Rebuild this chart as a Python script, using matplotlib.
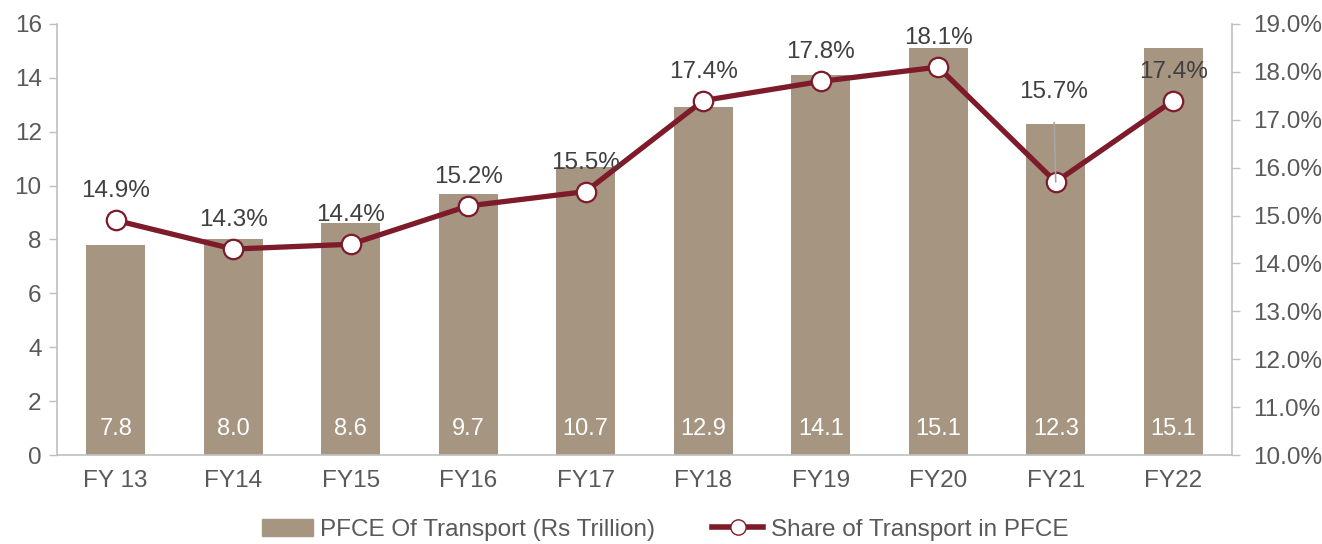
import matplotlib
matplotlib.use("Agg")
import matplotlib.pyplot as plt
from matplotlib.patches import Patch
from matplotlib.lines import Line2D

categories = ["FY 13", "FY14", "FY15", "FY16", "FY17", "FY18", "FY19", "FY20", "FY21", "FY22"]
pfce = [7.8, 8.0, 8.6, 9.7, 10.7, 12.9, 14.1, 15.1, 12.3, 15.1]
share = [14.9, 14.3, 14.4, 15.2, 15.5, 17.4, 17.8, 18.1, 15.7, 17.4]
left_ticks = [0, 2, 4, 6, 8, 10, 12, 14, 16]
right_ticks = [10, 11, 12, 13, 14, 15, 16, 17, 18, 19]

plt.rcParams['font.family'] = ['Liberation Sans', 'DejaVu Sans']
bar_c = "#A69580"
line_c = "#7D1B2A"
txt_c = "#404040"
tick_c = "#595959"
ax_c = "#BFBFBF"
FS = 17.5

fig = plt.figure(figsize=(13.22, 5.44), dpi=100)
ax = fig.add_axes([0.0431, 0.1636, 0.8888, 0.7924])
x = list(range(len(categories)))
ax.bar(x, pfce, width=0.5, color=bar_c, zorder=1)
ax.set_xlim(-0.5, len(categories) - 0.5)
ax.set_ylim(0, 16)
ax.set_yticks(left_ticks)
ax.set_xticks(x)
ax.set_xticklabels(categories)
for s in ["top", "right"]:
    ax.spines[s].set_visible(False)
for s in ["left", "bottom"]:
    ax.spines[s].set_color(ax_c)
    ax.spines[s].set_linewidth(1.2)
ax.tick_params(axis="y", colors=ax_c, labelcolor=tick_c, labelsize=FS, length=6, width=1, pad=5)
ax.tick_params(axis="x", length=0, labelcolor=tick_c, labelsize=FS, pad=11)
for xi, v in zip(x, pfce):
    ax.text(xi, 0.55, f"{v:.1f}", ha="center", va="bottom", color="white", fontsize=17)

ax2 = ax.twinx()
ax2.set_ylim(10, 19)
ax2.set_yticks(right_ticks)
ax2.set_yticklabels([f"{t:.1f}%" for t in right_ticks])
for s in ["top", "left", "bottom"]:
    ax2.spines[s].set_visible(False)
ax2.spines["right"].set_color(ax_c)
ax2.spines["right"].set_linewidth(1.2)
ax2.tick_params(axis="y", colors=ax_c, labelcolor=tick_c, labelsize=FS, length=6, width=1, pad=9)
ax2.plot(x, share, color=line_c, linewidth=3.8, marker="o", markersize=14,
         markerfacecolor="white", markeredgecolor=line_c, markeredgewidth=1.6, zorder=3)

for xi, v in zip(x, share):
    if categories[xi] == "FY21":
        ax2.annotate(f"{v:.1f}%", xy=(xi, v), xytext=(xi - 0.02, v + 1.65),
                     ha="center", va="bottom", fontsize=FS, color=txt_c,
                     arrowprops=dict(arrowstyle="-", color="#A6A6A6", lw=1.2,
                                     shrinkA=12, shrinkB=0))
    else:
        ax2.annotate(f"{v:.1f}%", xy=(xi, v), xytext=(0, 13), textcoords="offset points",
                     ha="center", va="bottom", fontsize=FS, color=txt_c)

handles = [Patch(color=bar_c, label="PFCE Of Transport (Rs Trillion)"),
           Line2D([0], [0], color=line_c, linewidth=4, marker="o", markersize=11,
                  markerfacecolor="white", markeredgecolor=line_c,
                  label="Share of Transport in PFCE")]
fig.legend(handles=handles, loc="center", bbox_to_anchor=(0.503, 0.026), ncol=2,
           frameon=False, fontsize=FS, handlelength=2.1, columnspacing=2.35,
           handletextpad=0.3, labelcolor=tick_c, borderpad=0.1)

fig.savefig("out.png", dpi=100)
